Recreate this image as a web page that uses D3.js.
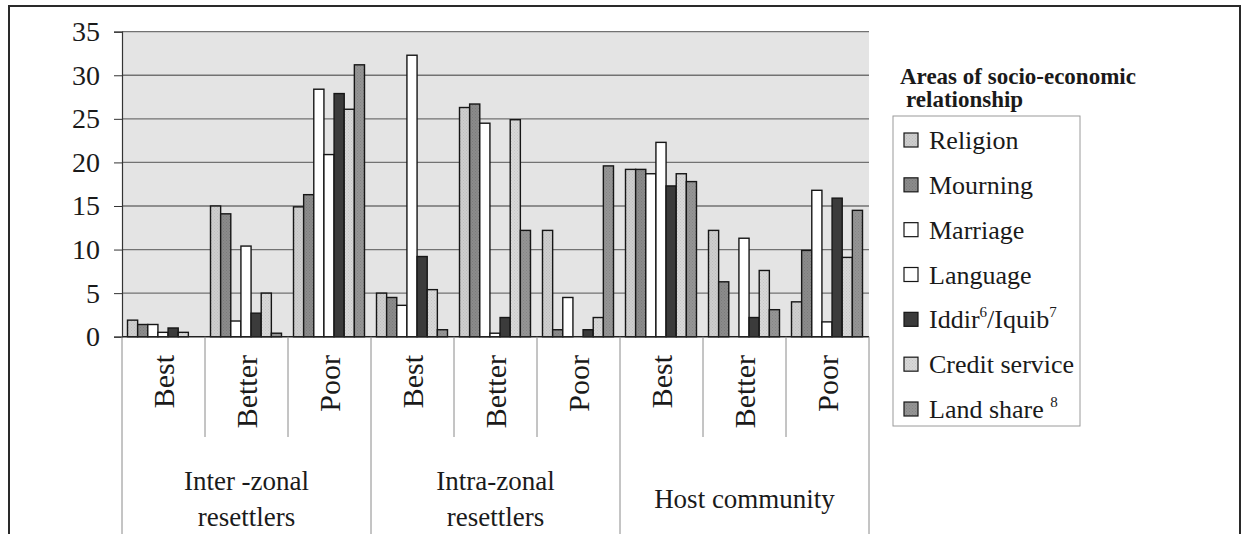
<!DOCTYPE html>
<html>
<head>
<meta charset="utf-8">
<script src="https://cdn.jsdelivr.net/npm/d3@7"></script>
<style>
  html, body { margin: 0; padding: 0; background: #fff; }
  svg { display: block; }
</style>
</head>
<body>
<svg id="chart" width="1248" height="534"></svg>
<script>
// Respondent groups and the rating levels inside each group
const groups = ["Inter -zonal|resettlers", "Intra-zonal|resettlers", "Host community"];
const levels = ["Best", "Better", "Poor"];

// Areas of socio-economic relationship (series)
const seriesNames = ["Religion", "Mourning", "Marriage", "Language", "Iddir/Iquib", "Credit service", "Land share"];

// Values in order: Inter Best/Better/Poor, Intra Best/Better/Poor, Host Best/Better/Poor
const religion  = [1.9, 15.0, 14.9,  5.0, 26.3, 12.2, 19.2, 12.2,  4.0];
const mourning  = [1.4, 14.1, 16.3,  4.5, 26.7,  0.8, 19.2,  6.3,  9.9];
const marriage  = [1.4,  1.8, 28.4,  3.6, 24.5,  4.5, 18.7,  0.0, 16.8];
const language  = [0.5, 10.4, 20.9, 32.3,  0.4,  0.0, 22.3, 11.3,  1.7];
const iddir     = [1.0,  2.7, 27.9,  9.2,  2.2,  0.8, 17.3,  2.2, 15.9];
const credit    = [0.5,  5.0, 26.1,  5.4, 24.9,  2.2, 18.7,  7.6,  9.1];
const landShare = [0.0,  0.4, 31.2,  0.8, 12.2, 19.6, 17.8,  3.1, 14.5];

const yTicks = [0, 5, 10, 15, 20, 25, 30, 35];

const seriesValues = [religion, mourning, marriage, language, iddir, credit, landShare];
const fills = ["#cecece", "#8b8b8b", "#ffffff", "#ffffff", "#3b3b3b", "#d8d8d8", "#959595"];

const SERIF = "'Liberation Serif', 'Times New Roman', Tinos, 'DejaVu Serif', serif";

// Flat list of sub-categories (group x level)
const subcats = [];
groups.forEach((g, gi) => levels.forEach((l, li) => subcats.push({ key: gi + "-" + li, group: gi, level: l })));

const svg = d3.select("#chart").attr("font-family", SERIF).style("font-family", SERIF);

// Stippled textures for the shaded series
const defs = svg.append("defs");
function stipple(id, base, dot) {
  const p = defs.append("pattern").attr("id", id).attr("patternUnits", "userSpaceOnUse")
    .attr("width", 3).attr("height", 3);
  p.append("rect").attr("width", 3).attr("height", 3).attr("fill", base);
  p.append("rect").attr("x", 0).attr("y", 0).attr("width", 1).attr("height", 1).attr("fill", dot);
  p.append("rect").attr("x", 1.5).attr("y", 1.5).attr("width", 1).attr("height", 1).attr("fill", dot);
  return "url(#" + id + ")";
}
const patFills = [
  stipple("p0", fills[0], "#bdbdbd"),
  stipple("p1", fills[1], "#7a7a7a"),
  fills[2], fills[3],
  fills[4],
  stipple("p5", fills[5], "#c6c6c6"),
  stipple("p6", fills[6], "#848484")
];

function txt(sel) {
  return sel.attr("font-family", SERIF).style("font-family", SERIF).attr("fill", "#1a1a1a");
}

// Outer chart frame
svg.append("rect").attr("x", 9).attr("y", 6).attr("width", 1231).attr("height", 600)
  .attr("fill", "none").attr("stroke", "#2a2a2a").attr("stroke-width", 2);

const plot = { left: 122, right: 869, top: 31.7, bottom: 336.7 };

const y = d3.scaleLinear().domain([0, 35]).range([plot.bottom, plot.top]);
const x0 = d3.scaleBand().domain(subcats.map(d => d.key)).range([plot.left, plot.right]).padding(0);
const x1 = d3.scaleBand().domain(seriesNames).range([5.5, x0.bandwidth() - 6.5]).padding(0);

// Plot area background
svg.append("rect").attr("x", plot.left).attr("y", plot.top)
  .attr("width", plot.right - plot.left).attr("height", plot.bottom - plot.top)
  .attr("fill", "#e4e4e4");

// Horizontal gridlines
svg.append("g").selectAll("line").data(yTicks.filter(t => t > 0)).join("line")
  .attr("x1", plot.left).attr("x2", plot.right)
  .attr("y1", d => y(d)).attr("y2", d => y(d))
  .attr("stroke", "#727272").attr("stroke-width", 1.3);

// Bars
const barG = svg.append("g");
subcats.forEach((sc, si) => {
  const g = barG.append("g").attr("transform", `translate(${x0(sc.key)},0)`);
  g.selectAll("rect").data(seriesNames.map((s, k) => ({ s, k, v: seriesValues[k][si] })))
    .join("rect")
    .filter(d => d.v > 0)
    .attr("x", d => x1(d.s))
    .attr("width", x1.bandwidth())
    .attr("y", d => y(d.v))
    .attr("height", d => y(0) - y(d.v))
    .attr("fill", d => patFills[d.k])
    .attr("stroke", "#161616").attr("stroke-width", 1.4);
});

// Y axis
const yAxis = d3.axisLeft(y).tickValues(yTicks).tickSize(8).tickPadding(14);
const ya = svg.append("g").attr("transform", `translate(${plot.left},0)`).call(yAxis);
ya.attr("font-family", SERIF);
ya.select(".domain").attr("stroke", "#333").attr("stroke-width", 1.2);
ya.selectAll(".tick line").attr("stroke", "#333");
txt(ya.selectAll(".tick text")).attr("font-size", 28);

// X axis baseline
svg.append("line").attr("x1", plot.left).attr("x2", plot.right)
  .attr("y1", plot.bottom).attr("y2", plot.bottom).attr("stroke", "#222").attr("stroke-width", 1.4);

// Category separators: short between levels, long between groups
const bounds = d3.range(subcats.length + 1);
svg.append("g").selectAll("line").data(bounds).join("line")
  .attr("x1", i => plot.left + i * x0.bandwidth())
  .attr("x2", i => plot.left + i * x0.bandwidth())
  .attr("y1", plot.bottom)
  .attr("y2", i => (i % 3 === 0 ? 534 : 437))
  .attr("stroke", "#8a8a8a").attr("stroke-width", 1);

// Level labels (rotated)
txt(svg.append("g").selectAll("text").data(subcats).join("text"))
  .attr("transform", d => `translate(${x0(d.key) + x0.bandwidth() / 2},355) rotate(-90)`)
  .attr("text-anchor", "end").attr("dy", "0.35em")
  .attr("font-size", 30)
  .text(d => d.level);

// Group labels: two-line names stacked, one-line names centred between the rows
const groupW = x0.bandwidth() * 3;
groups.forEach((g, gi) => {
  const cx = plot.left + groupW * gi + groupW / 2;
  const lines = g.split("|");
  const base = lines.length === 1 ? 508 : 490;
  lines.forEach((line, li) => {
    txt(svg.append("text")).attr("x", cx).attr("y", base + li * 36)
      .attr("text-anchor", "middle").attr("font-size", 27).text(line);
  });
});

// Legend title
txt(svg.append("text")).attr("x", 900).attr("y", 84).attr("font-size", 23).attr("font-weight", "bold")
  .text("Areas of socio-economic");
txt(svg.append("text")).attr("x", 906).attr("y", 107).attr("font-size", 23).attr("font-weight", "bold")
  .text("relationship");

// Legend box
const leg = { x: 893, y: 116, w: 187, h: 310 };
svg.append("rect").attr("x", leg.x).attr("y", leg.y).attr("width", leg.w).attr("height", leg.h)
  .attr("fill", "#fff").attr("stroke", "#9a9a9a").attr("stroke-width", 1);

const legendLabels = [
  ["Religion"], ["Mourning"], ["Marriage"], ["Language"],
  ["Iddir", "6", "/Iquib", "7"], ["Credit service"], ["Land share ", "8"]
];
const itemY = d3.scalePoint().domain(d3.range(7)).range([140, 409]);
legendLabels.forEach((parts, i) => {
  const cy = itemY(i);
  svg.append("rect").attr("x", 904).attr("y", cy - 7).attr("width", 14).attr("height", 14)
    .attr("fill", patFills[i]).attr("stroke", "#161616").attr("stroke-width", 1.2);
  const t = txt(svg.append("text")).attr("x", 929).attr("y", cy + 9).attr("font-size", 26);
  parts.forEach((p, k) => {
    const isSup = (k % 2 === 1);
    t.append("tspan").text(p)
      .attr("font-size", isSup ? 15 : 26)
      .attr("dy", isSup ? -11 : (k > 0 ? 11 : 0));
  });
});
</script>
</body>
</html>
